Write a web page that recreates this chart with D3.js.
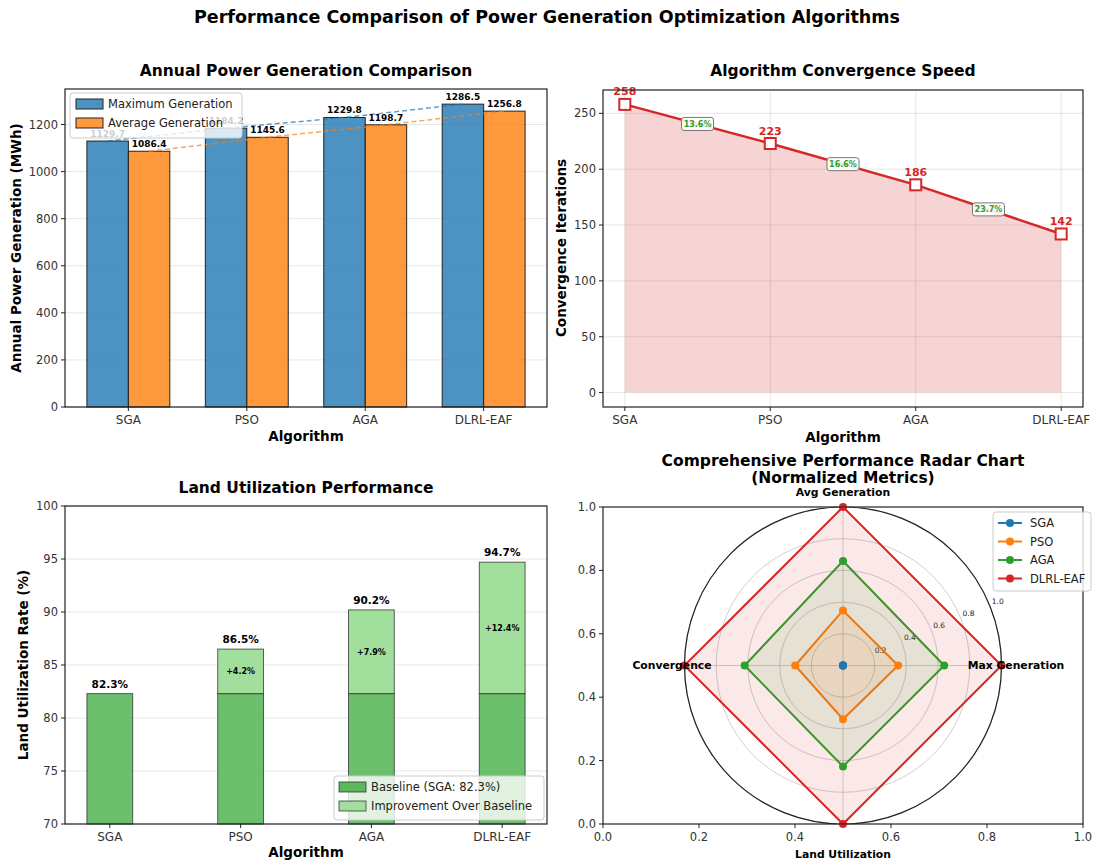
<!DOCTYPE html>
<html>
<head>
<meta charset="utf-8">
<script src="https://cdn.jsdelivr.net/npm/d3@7"></script>
<style>
  body { margin: 0; background: #fff; }
  svg text { font-family: "DejaVu Sans", sans-serif; }
</style>
</head>
<body>
<div id="chart"></div>
<script>
// data
var algorithms = ["SGA", "PSO", "AGA", "DLRL-EAF"];
var maxGeneration = [1129.7, 1184.2, 1229.8, 1286.5];
var avgGeneration = [1086.4, 1145.6, 1198.7, 1256.8];
var convergence = [258, 223, 186, 142];
var landUtil = [82.3, 86.5, 90.2, 94.7];
var radarAxes = ["Max Generation", "Avg Generation", "Convergence", "Land Utilization"];

var genTicks = [0, 200, 400, 600, 800, 1000, 1200];
var convTicks = [0, 50, 100, 150, 200, 250];
var landTicks = [70, 75, 80, 85, 90, 95, 100];
var unitTicks = [0, 0.2, 0.4, 0.6, 0.8, 1.0];
var ringTicks = [0.2, 0.4, 0.6, 0.8, 1.0];

var W = 1095, H = 862;
var svg = d3.select("#chart").append("svg").attr("width", W).attr("height", H);

var tab = ["#1f77b4", "#ff7f0e", "#2ca02c", "#d62728"];

svg.append("text").attr("x", 547).attr("y", 23).attr("text-anchor", "middle")
  .style("font-size", "17.5px").style("font-weight", "bold")
  .text("Performance Comparison of Power Generation Optimization Algorithms");

// helpers
function frame(g, x0, x1, y0, y1) {
  g.append("rect").attr("x", x0).attr("y", y0).attr("width", x1 - x0).attr("height", y1 - y0)
    .attr("fill", "none").attr("stroke", "#222").attr("stroke-width", 1.2);
}
function yAxis(g, y, ticks, x0, fmt) {
  ticks.forEach(function(t) {
    g.append("line").attr("x1", x0 - 4).attr("x2", x0).attr("y1", y(t)).attr("y2", y(t)).attr("stroke", "#222");
    g.append("text").attr("x", x0 - 7).attr("y", y(t)).attr("dy", "0.35em").attr("text-anchor", "end")
      .style("font-size", "11.5px").attr("fill", "#333").text(fmt ? fmt(t) : t);
  });
}
function xAxisCat(g, x, y1) {
  algorithms.forEach(function(a, i) {
    g.append("line").attr("x1", x(i)).attr("x2", x(i)).attr("y1", y1).attr("y2", y1 + 4).attr("stroke", "#222");
    g.append("text").attr("x", x(i)).attr("y", y1 + 17).attr("text-anchor", "middle")
      .style("font-size", "12px").attr("fill", "#333").text(a);
  });
}
function hgrid(g, y, ticks, x0, x1) {
  ticks.forEach(function(t) {
    g.append("line").attr("x1", x0).attr("x2", x1).attr("y1", y(t)).attr("y2", y(t))
      .attr("stroke", "#b0b0b0").attr("stroke-opacity", 0.3);
  });
}
function title(x, y, txt) {
  svg.append("text").attr("x", x).attr("y", y).attr("text-anchor", "middle")
    .style("font-size", "15.5px").style("font-weight", "bold").text(txt);
}
function xlabel(x, y, txt) {
  svg.append("text").attr("x", x).attr("y", y).attr("text-anchor", "middle")
    .style("font-size", "13.5px").style("font-weight", "bold").text(txt);
}
function ylabel(x, y, txt) {
  svg.append("text").attr("transform", "translate(" + x + "," + y + ") rotate(-90)").attr("text-anchor", "middle")
    .style("font-size", "13.5px").style("font-weight", "bold").text(txt);
}

// ===== panel 1: annual generation =====
var g1 = svg.append("g");
var x1 = d3.scaleLinear().domain([-0.535, 3.535]).range([65, 547]);
var y1 = d3.scaleLinear().domain([0, 1350.8]).range([407, 89]);
var bw = 0.35;
hgrid(g1, y1, genTicks, 65, 547);

g1.selectAll(".maxbar").data(maxGeneration).enter().append("rect")
  .attr("x", function(d, i) { return x1(i - bw); })
  .attr("width", x1(bw) - x1(0))
  .attr("y", function(d) { return y1(d); })
  .attr("height", function(d) { return y1(0) - y1(d); })
  .attr("fill", tab[0]).attr("fill-opacity", 0.8).attr("stroke", "#222").attr("stroke-width", 1);
g1.selectAll(".avgbar").data(avgGeneration).enter().append("rect")
  .attr("x", function(d, i) { return x1(i); })
  .attr("width", x1(bw) - x1(0))
  .attr("y", function(d) { return y1(d); })
  .attr("height", function(d) { return y1(0) - y1(d); })
  .attr("fill", tab[1]).attr("fill-opacity", 0.8).attr("stroke", "#222").attr("stroke-width", 1);

var trend = d3.line().x(function(d) { return x1(d[0]); }).y(function(d) { return y1(d[1]); });
g1.append("path").attr("d", trend(maxGeneration.map(function(d, i) { return [i - bw / 2, d]; })))
  .attr("fill", "none").attr("stroke", tab[0]).attr("stroke-opacity", 0.7).attr("stroke-width", 1.5).attr("stroke-dasharray", "5,3");
g1.append("path").attr("d", trend(avgGeneration.map(function(d, i) { return [i + bw / 2, d]; })))
  .attr("fill", "none").attr("stroke", tab[1]).attr("stroke-opacity", 0.7).attr("stroke-width", 1.5).attr("stroke-dasharray", "5,3");

maxGeneration.forEach(function(d, i) {
  g1.append("text").attr("x", x1(i - bw / 2)).attr("y", y1(d) - 4).attr("text-anchor", "middle")
    .style("font-size", "9px").style("font-weight", "bold").text(d.toFixed(1));
});
avgGeneration.forEach(function(d, i) {
  g1.append("text").attr("x", x1(i + bw / 2)).attr("y", y1(d) - 4).attr("text-anchor", "middle")
    .style("font-size", "9px").style("font-weight", "bold").text(d.toFixed(1));
});
frame(g1, 65, 547, 89, 407);
yAxis(g1, y1, genTicks, 65);
xAxisCat(g1, x1, 407);

var lg1 = g1.append("g");
lg1.append("rect").attr("x", 70).attr("y", 93).attr("width", 172).attr("height", 45).attr("rx", 3)
  .attr("fill", "#fff").attr("fill-opacity", 0.8).attr("stroke", "#ccc");
[["Maximum Generation", tab[0]], ["Average Generation", tab[1]]].forEach(function(e, i) {
  lg1.append("rect").attr("x", 76).attr("y", 99 + i * 19).attr("width", 27).attr("height", 10)
    .attr("fill", e[1]).attr("fill-opacity", 0.8).attr("stroke", "#222");
  lg1.append("text").attr("x", 108).attr("y", 104 + i * 19).attr("dy", "0.35em").style("font-size", "11.5px").attr("fill", "#222").text(e[0]);
});
title(306, 76, "Annual Power Generation Comparison");
xlabel(306, 441, "Algorithm");
ylabel(21, 248, "Annual Power Generation (MWh)");

// ===== panel 2: convergence =====
var g2 = svg.append("g");
var x2 = d3.scaleLinear().domain([-0.15, 3.15]).range([603, 1083]);
var y2 = d3.scaleLinear().domain([-12.9, 270.9]).range([407, 90]);
hgrid(g2, y2, convTicks, 603, 1083);
algorithms.forEach(function(a, i) {
  g2.append("line").attr("x1", x2(i)).attr("x2", x2(i)).attr("y1", 90).attr("y2", 407)
    .attr("stroke", "#b0b0b0").attr("stroke-opacity", 0.3);
});
var area = d3.area().x(function(d, i) { return x2(i); }).y0(y2(0)).y1(function(d) { return y2(d); });
g2.append("path").attr("d", area(convergence)).attr("fill", tab[3]).attr("fill-opacity", 0.2);
var cline = d3.line().x(function(d, i) { return x2(i); }).y(function(d) { return y2(d); });
g2.append("path").attr("d", cline(convergence)).attr("fill", "none").attr("stroke", tab[3]).attr("stroke-width", 2.5);
convergence.forEach(function(d, i) {
  g2.append("rect").attr("x", x2(i) - 5.5).attr("y", y2(d) - 5.5).attr("width", 11).attr("height", 11)
    .attr("fill", "#fff").attr("stroke", tab[3]).attr("stroke-width", 2);
  g2.append("text").attr("x", x2(i)).attr("y", y2(d) - 9).attr("text-anchor", "middle")
    .style("font-size", "11px").style("font-weight", "bold").attr("fill", tab[3]).text(d);
});
for (var i = 1; i < convergence.length; i++) {
  var pct = ((convergence[i - 1] - convergence[i]) / convergence[i - 1] * 100).toFixed(1) + "%";
  var mx = x2(i - 0.5), my = y2((convergence[i - 1] + convergence[i]) / 2);
  g2.append("rect").attr("x", mx - 16).attr("y", my - 6.5).attr("width", 32).attr("height", 13).attr("rx", 2.5)
    .attr("fill", "#fff").attr("fill-opacity", 0.9).attr("stroke", "#777").attr("stroke-width", 1);
  g2.append("text").attr("x", mx).attr("y", my).attr("dy", "0.35em").attr("text-anchor", "middle")
    .style("font-size", "8px").style("font-weight", "bold").attr("fill", "#2ca02c").text(pct);
}
frame(g2, 603, 1083, 90, 407);
yAxis(g2, y2, convTicks, 603);
xAxisCat(g2, x2, 407);
title(843, 76, "Algorithm Convergence Speed");
xlabel(843, 442, "Algorithm");
ylabel(566, 248, "Convergence Iterations");

// ===== panel 3: land utilization =====
var g3 = svg.append("g");
var x3 = d3.scaleLinear().domain([-0.3425, 3.3425]).range([65, 547]);
var y3 = d3.scaleLinear().domain([70, 100]).range([824, 506]);
var base = landUtil[0];
var bw3 = 0.35;
hgrid(g3, y3, landTicks, 65, 547);
landUtil.forEach(function(d, i) {
  g3.append("rect").attr("x", x3(i - bw3 / 2)).attr("width", x3(bw3) - x3(0))
    .attr("y", y3(base)).attr("height", y3(70) - y3(base))
    .attr("fill", "#5cb85c").attr("fill-opacity", 0.9).attr("stroke", "#222").attr("stroke-opacity", 0.7);
  if (d > base) {
    g3.append("rect").attr("x", x3(i - bw3 / 2)).attr("width", x3(bw3) - x3(0))
      .attr("y", y3(d)).attr("height", y3(base) - y3(d))
      .attr("fill", "#a3df9c").attr("stroke", "#222").attr("stroke-opacity", 0.7);
    g3.append("text").attr("x", x3(i)).attr("y", y3((d + base) / 2)).attr("dy", "0.35em").attr("text-anchor", "middle")
      .style("font-size", "8px").style("font-weight", "bold").text("+" + (d - base).toFixed(1) + "%");
  }
  g3.append("text").attr("x", x3(i)).attr("y", y3(d) - 6).attr("text-anchor", "middle")
    .style("font-size", "10.5px").style("font-weight", "bold").text(d.toFixed(1) + "%");
});
frame(g3, 65, 547, 506, 824);
yAxis(g3, y3, landTicks, 65);
xAxisCat(g3, x3, 824);
var lg3 = g3.append("g");
lg3.append("rect").attr("x", 334).attr("y", 776).attr("width", 210).attr("height", 44).attr("rx", 3)
  .attr("fill", "#fff").attr("fill-opacity", 0.8).attr("stroke", "#ccc");
[["Baseline (SGA: 82.3%)", "#5cb85c"], ["Improvement Over Baseline", "#a3df9c"]].forEach(function(e, i) {
  lg3.append("rect").attr("x", 339).attr("y", 782 + i * 19).attr("width", 27).attr("height", 10)
    .attr("fill", e[1]).attr("stroke", "#222").attr("stroke-opacity", 0.7);
  lg3.append("text").attr("x", 371).attr("y", 787 + i * 19).attr("dy", "0.35em").style("font-size", "11.5px").attr("fill", "#222").text(e[0]);
});
title(306, 493, "Land Utilization Performance");
xlabel(306, 857, "Algorithm");
ylabel(28, 665, "Land Utilization Rate (%)");

// ===== panel 4: radar =====
var g4 = svg.append("g");
var x4 = d3.scaleLinear().domain([0, 1]).range([603, 1083]);
var y4 = d3.scaleLinear().domain([0, 1]).range([824, 507]);
frame(g4, 603, 1083, 507, 824);
yAxis(g4, y4, unitTicks, 603, d3.format(".1f"));
unitTicks.forEach(function(t) {
  g4.append("line").attr("x1", x4(t)).attr("x2", x4(t)).attr("y1", 824).attr("y2", 828).attr("stroke", "#222");
  g4.append("text").attr("x", x4(t)).attr("y", 841).attr("text-anchor", "middle")
    .style("font-size", "11.5px").attr("fill", "#333").text(t.toFixed(1));
});

function norm(arr, invert) {
  var lo = d3.min(arr), hi = d3.max(arr);
  return arr.map(function(v) { return invert ? (hi - v) / (hi - lo) : (v - lo) / (hi - lo); });
}
var radarVals = [norm(maxGeneration), norm(avgGeneration), norm(convergence, true), norm(landUtil)];
var cx = 843, cy = 665.5;
var r = d3.scaleLinear().domain([0, 1]).range([0, 158.5]);
var angles = [0, 90, 180, 270].map(function(a) { return a * Math.PI / 180; });
function pt(a, v) { return [cx + r(v) * Math.cos(a), cy - r(v) * Math.sin(a)]; }

g4.append("circle").attr("cx", cx).attr("cy", cy).attr("r", r(1)).attr("fill", "#fff");
ringTicks.forEach(function(t) {
  g4.append("circle").attr("cx", cx).attr("cy", cy).attr("r", r(t)).attr("fill", "none")
    .attr("stroke", "#b0b0b0").attr("stroke-opacity", 0.6);
});
angles.forEach(function(a) {
  var p = pt(a, 1);
  g4.append("line").attr("x1", cx).attr("y1", cy).attr("x2", p[0]).attr("y2", p[1])
    .attr("stroke", "#b0b0b0").attr("stroke-opacity", 0.6);
});
ringTicks.forEach(function(t) {
  var a = 22.5 * Math.PI / 180;
  g4.append("text").attr("x", cx + (r(t) + 9) * Math.cos(a)).attr("y", cy - (r(t) + 9) * Math.sin(a))
    .attr("dy", "0.35em").attr("text-anchor", "middle").style("font-size", "7.5px").attr("fill", "#222").text(t.toFixed(1));
});

algorithms.forEach(function(alg, k) {
  var pts = angles.map(function(a, j) { return pt(a, radarVals[j][k]); });
  var d = "M" + pts.map(function(p) { return p.join(","); }).join("L") + "Z";
  g4.append("path").attr("d", d).attr("fill", tab[k]).attr("fill-opacity", 0.1)
    .attr("stroke", tab[k]).attr("stroke-width", 2);
});
algorithms.forEach(function(alg, k) {
  angles.forEach(function(a, j) {
    var p = pt(a, radarVals[j][k]);
    g4.append("circle").attr("cx", p[0]).attr("cy", p[1]).attr("r", 4).attr("fill", tab[k]);
  });
});
g4.append("circle").attr("cx", cx).attr("cy", cy).attr("r", r(1)).attr("fill", "none").attr("stroke", "#222").attr("stroke-width", 1.2);

var labelPos = [[1016, cy], [843, 492], [672, cy], [843, 854]];
radarAxes.forEach(function(t, j) {
  g4.append("text").attr("x", labelPos[j][0]).attr("y", labelPos[j][1]).attr("dy", "0.35em").attr("text-anchor", "middle")
    .style("font-size", "10.8px").style("font-weight", "bold").text(t);
});

var lg4 = g4.append("g");
lg4.append("rect").attr("x", 993).attr("y", 512).attr("width", 98).attr("height", 79).attr("rx", 3)
  .attr("fill", "#fff").attr("fill-opacity", 0.8).attr("stroke", "#ccc");
algorithms.forEach(function(a, k) {
  var yy = 523 + k * 18.5;
  lg4.append("line").attr("x1", 998).attr("x2", 1022).attr("y1", yy).attr("y2", yy).attr("stroke", tab[k]).attr("stroke-width", 2);
  lg4.append("circle").attr("cx", 1010).attr("cy", yy).attr("r", 4).attr("fill", tab[k]);
  lg4.append("text").attr("x", 1030).attr("y", yy).attr("dy", "0.35em").style("font-size", "11.5px").attr("fill", "#222").text(a);
});
title(843, 466, "Comprehensive Performance Radar Chart");
title(843, 483, "(Normalized Metrics)");
</script>
</body>
</html>
